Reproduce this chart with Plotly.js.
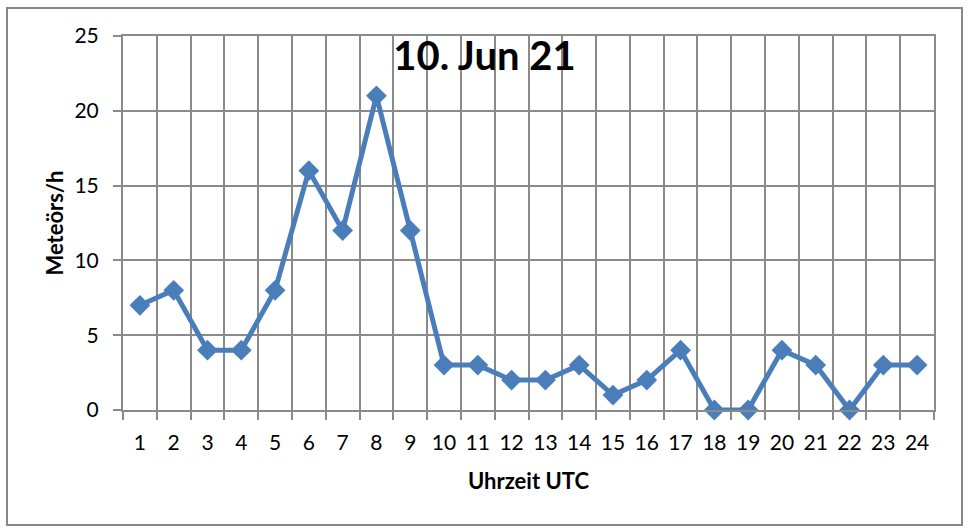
<!DOCTYPE html>
<html>
<head>
<meta charset="utf-8">
<script src="https://cdn.plot.ly/plotly-3.0.1.min.js"></script>
<style>html,body{margin:0;padding:0;background:#fff;}#chart{width:969px;height:532px;}</style>
</head>
<body>
<div id="chart"></div>
<script>
// Data
const hours = [1,2,3,4,5,6,7,8,9,10,11,12,13,14,15,16,17,18,19,20,21,22,23,24];
const meteors = [7,8,4,4,8,16,12,21,12,3,3,2,2,3,1,2,4,0,0,4,3,0,3,3];
const hourLabels = hours.map(String);
const gridPositions = [0.5,1.5,2.5,3.5,4.5,5.5,6.5,7.5,8.5,9.5,10.5,11.5,12.5,13.5,14.5,15.5,16.5,17.5,18.5,19.5,20.5,21.5,22.5,23.5,24.5];
const yTicks = [0,5,10,15,20,25];

const W = 969, H = 532;
const L = 123, R = 934, T = 36, B = 410;
const pw = R - L, ph = B - T;
const gridColor = '#8a8a8a';
const blue = '#4a7ebb';
const font = 'Lato, Carlito, "Open Sans", sans-serif';

const traces = [
  { // dummy on main x for grid
    x: [null], y: [null], xaxis: 'x', yaxis: 'y', type: 'scatter', mode: 'markers',
    hoverinfo: 'skip', showlegend: false
  },
  {
    x: hours, y: meteors, xaxis: 'x2', yaxis: 'y', type: 'scatter', mode: 'lines+markers',
    line: {color: blue, width: 5},
    marker: {symbol: 'diamond', size: 16, color: blue},
    cliponaxis: false,
    showlegend: false
  }
];

const layout = {
  width: W, height: H,
  margin: {l: L, r: W - R, t: T, b: H - B, pad: 0},
  paper_bgcolor: '#fff', plot_bgcolor: '#fff',
  font: {family: font, color: '#000', size: 21},
  title: {
    text: '<b>10. Jun 21</b>',
    font: {family: font, size: 40, color: '#000'},
    x: 0.5, xref: 'container', xanchor: 'center',
    y: 1 - 56 / H, yref: 'container', yanchor: 'middle'
  },
  xaxis: {
    range: [0.5, 24.5], tickmode: 'array', tickvals: gridPositions, ticktext: gridPositions.map(() => ''),
    showgrid: true, gridcolor: gridColor, gridwidth: 2,
    ticks: 'outside', ticklen: 8, tickwidth: 2, tickcolor: gridColor,
    showline: true, linecolor: gridColor, linewidth: 2, mirror: true,
    zeroline: false, fixedrange: true
  },
  xaxis2: {
    overlaying: 'x', matches: 'x', anchor: 'y', side: 'bottom',
    range: [0.5, 24.5], tickmode: 'array', tickvals: hours, ticktext: hourLabels,
    showgrid: false, zeroline: false, showline: false,
    ticks: 'outside', ticklen: 14, tickcolor: 'rgba(0,0,0,0)',
    tickfont: {family: font, size: 21, color: '#000'},
    title: {text: '<b>Uhrzeit UTC</b>', font: {family: font, size: 22, color: '#000'}, standoff: 20}
  },
  yaxis: {
    range: [0, 25], tickmode: 'array', tickvals: yTicks,
    showgrid: true, gridcolor: gridColor, gridwidth: 2,
    ticks: 'outside', ticklen: 8, tickwidth: 2, tickcolor: gridColor,
    showline: true, linecolor: gridColor, linewidth: 2, mirror: true,
    zeroline: false, ticklabelstandoff: 10,
    tickfont: {family: font, size: 21, color: '#000'},
    title: {text: '<b>Meteörs/h</b>', font: {family: font, size: 22, color: '#000'}, standoff: 5}
  },
  shapes: [{
    type: 'rect', xref: 'paper', yref: 'paper',
    x0: (7 - L) / pw, x1: (962 - L) / pw,
    y0: (B - 525) / ph, y1: (B - 8) / ph,
    line: {color: '#878787', width: 2}, fillcolor: 'rgba(0,0,0,0)', layer: 'below'
  }]
};

Plotly.newPlot('chart', traces, layout, {displayModeBar: false, staticPlot: true});
</script>
</body>
</html>
